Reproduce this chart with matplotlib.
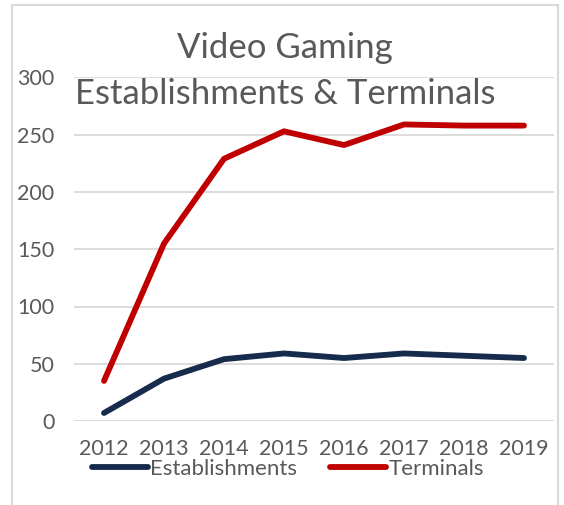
import numpy as np
import matplotlib.pyplot as plt
from matplotlib.patches import Rectangle

years = ['2012', '2013', '2014', '2015', '2016', '2017', '2018', '2019']
establishments = [7, 37, 54, 59, 55, 59, 57, 55]
terminals = [35, 155, 229, 253, 241, 259, 258, 258]

plt.rcParams['font.family'] = ['Lato', 'DejaVu Sans']
grey = '#595959'

fig = plt.figure(figsize=(5.64, 5.05), dpi=100)
W, H = 564, 505
ax = fig.add_axes([74 / W, 1 - 421 / H, (554 - 74) / W, (421 - 77.5) / H])

x = np.arange(len(years))
ax.plot(x, establishments, color='#172B4D', lw=4.2, solid_capstyle='round',
        solid_joinstyle='round', label='Establishments', zorder=3)
ax.plot(x, terminals, color='#C00000', lw=4.2, solid_capstyle='round',
        solid_joinstyle='round', label='Terminals', zorder=3)

ax.set_xlim(-0.5, len(years) - 0.5)
ax.set_ylim(0, 300)
ax.set_yticks(range(0, 301, 50))
ax.set_xticks(x)
ax.set_xticklabels(years)
ax.grid(axis='y', color='#d9d9d9', lw=1.3)
ax.set_axisbelow(True)
for s in ax.spines.values():
    s.set_visible(False)
ax.tick_params(length=0, labelsize=15.5, labelcolor=grey)
ax.tick_params(axis='y', pad=14)
ax.tick_params(axis='x', pad=13)

fig.text(285 / W, 1 - 58 / H, 'Video Gaming', ha='center', va='baseline',
         fontsize=25, color=grey)
fig.text(285 / W, 1 - 104 / H, 'Establishments & Terminals', ha='center',
         va='baseline', fontsize=25, color=grey)

fig.legend(loc='center', bbox_to_anchor=(288 / W, 1 - 469 / H), ncol=2,
           frameon=False, fontsize=16, labelcolor=grey, handlelength=2.5,
           handletextpad=0.1, columnspacing=1.5, borderpad=0)

fig.patches.append(Rectangle((11.5 / W, -0.1), (558 - 11.5) / W, 1.1 - 4.5 / H,
                             transform=fig.transFigure, fill=False,
                             edgecolor='#d9d9d9', lw=1.5))

fig.savefig('out.png', dpi=100)
